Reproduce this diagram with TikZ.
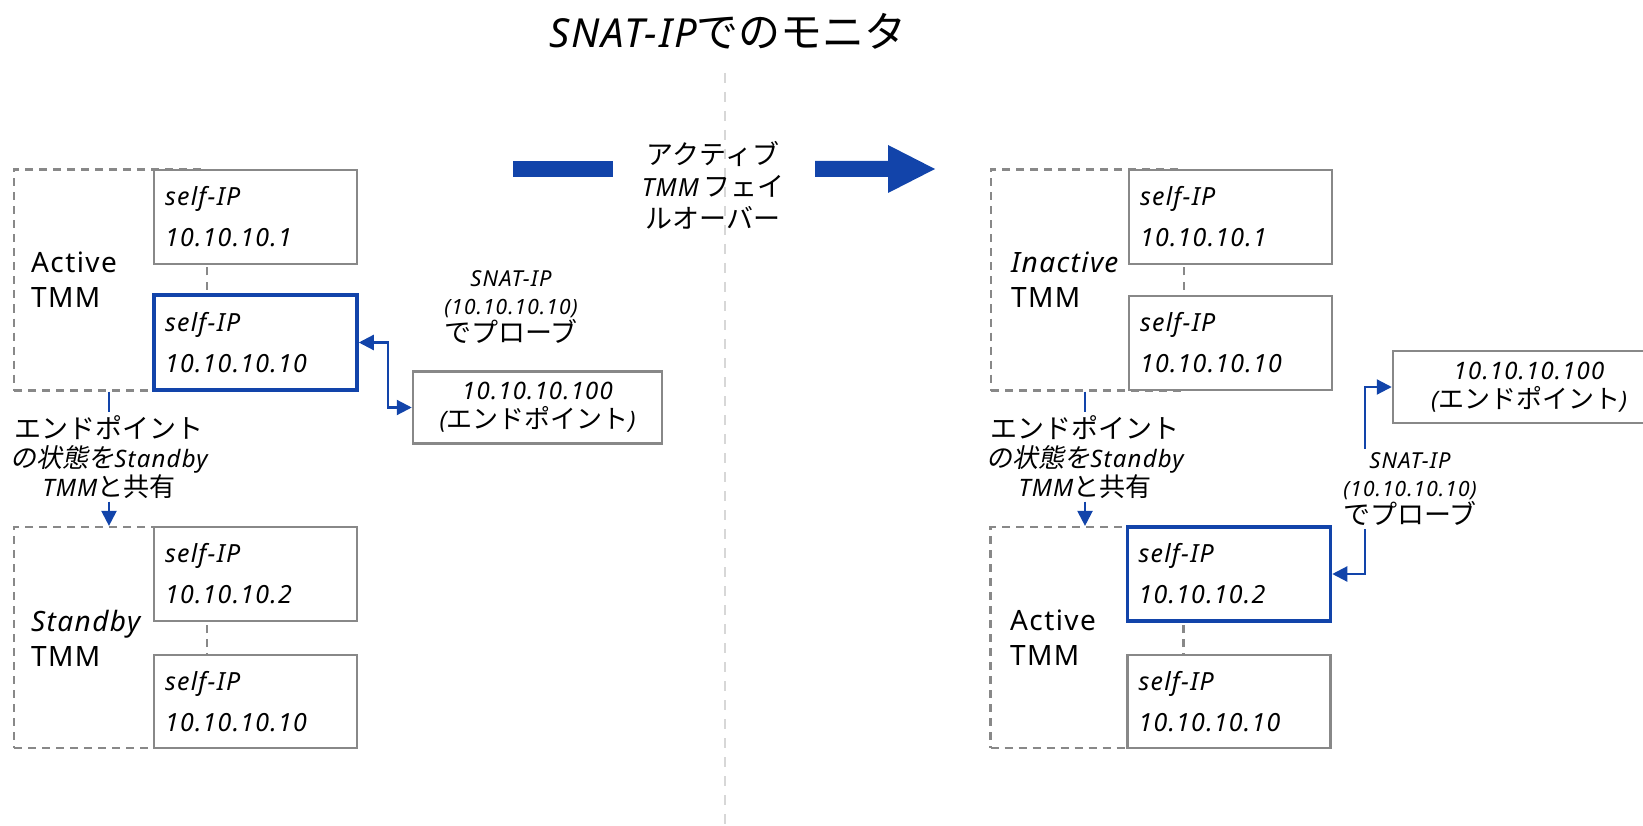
\documentclass[tikz,border=0pt]{standalone}
\usepackage{fontspec}
\setmainfont{Noto Sans}[LetterSpace=5]
\newfontfamily\jpf{Noto Sans CJK JP}
\newfontfamily\jpsl{Noto Sans CJK JP}[FakeSlant=0.2]
\newcommand\jp[1]{{\jpf #1}}
\newcommand\jps[1]{{\jpsl #1}}
\usetikzlibrary{arrows.meta}
\definecolor{f5blue}{RGB}{18,68,170}
\definecolor{boxgray}{RGB}{136,136,136}
\definecolor{divgray}{RGB}{215,215,215}
\begin{document}
\begin{tikzpicture}[x=1pt,y=-1pt,
  ipbox/.style={draw=boxgray, line width=2.5pt, fill=white, minimum height=94pt,
    text width=181pt, inner xsep=11pt, inner ysep=0pt, align=left,
    font=\fontsize{25}{41}\selectfont\itshape},
  activebox/.style={ipbox, draw=f5blue, line width=3.5pt},
  tmmgroup/.style={draw=boxgray, line width=2.2pt, dash pattern=on 8pt off 6pt,
    minimum width=193pt, minimum height=221pt, inner sep=0pt},
  tmmlabel/.style={anchor=west, align=left, inner sep=0pt,
    font=\fontsize{28}{35}\selectfont},
  epbox/.style={draw=boxgray, line width=2.5pt, fill=white, minimum height=72pt,
    inner sep=0pt, align=center, font=\fontsize{24}{29}\selectfont},
  flow/.style={draw=f5blue, line width=2.2pt},
  tips/.style={flow, {Triangle[length=15pt,width=15pt]}-{Triangle[length=15pt,width=15pt]}},
  tipend/.style={flow, -{Triangle[length=15pt,width=15pt]}},
  note/.style={align=center, inner xsep=1pt, inner ysep=3pt, font=\fontsize{24}{29}\selectfont},
  probe/.style={align=center, inner xsep=1pt, inner ysep=4pt, fill=white,
    font=\fontsize{21}{28}\selectfont}
]
\useasboundingbox (0,0) rectangle (1643,826);

% title and divider
\node[font=\fontsize{40}{46}\selectfont] (title) at (728,31)
  {{\itshape SNAT-IP}{\fontsize{42}{46}\selectfont\jp{でのモニタ}}};
\draw[divgray, line width=2pt, dash pattern=on 10pt off 9pt] (725,73) -- (725,826);

% failover arrow
\node[align=center, font=\fontsize{25}{32}\selectfont] (fo) at (713,185)
  {{\fontsize{27}{32}\selectfont\jp{アクティブ}}\\{\itshape TMM}\,{\fontsize{27}{32}\selectfont\jp{フェイ}}\\{\fontsize{27}{32}\selectfont\jp{ルオーバー}}};
\fill[f5blue] (513,161) rectangle (613,177);
\fill[f5blue] (815,161) -- (888,161) -- (888,145) -- (935,169) -- (888,193)
  -- (888,177) -- (815,177) -- cycle;

% ---------- before failover ----------
\node[tmmgroup] (lg1) at (110.5,280) {};
\node[ipbox] (l1) at (255.5,217) {self-IP\\10.10.10.1};
\node[activebox, minimum height=95pt] (l2) at (255.5,342.5) {self-IP\\10.10.10.10};
\node[tmmlabel] (lt1) at (31,280) {Active\\TMM};

\node[tmmgroup] (lg2) at (110.5,637.5) {};
\node[ipbox] (l3) at (255.5,574) {self-IP\\10.10.10.2};
\node[ipbox, minimum height=93pt] (l4) at (255.5,701.5) {self-IP\\10.10.10.10};
\node[tmmlabel] (lt2) at (31,638) {{\itshape Standby}\\TMM};

\node[note] (ls) at (109,457)
  {{\fontsize{27}{29}\selectfont\jp{エンドポイント}}\\{\fontsize{26}{29}\selectfont\jps{の状態を}}{\itshape Standby}\\{\itshape TMM}{\fontsize{26}{29}\selectfont\jp{と共有}}};
\draw[flow] (ls.north |- lg1.south) -- (ls.north);
\draw[tipend] (ls.south) -- (ls.south |- lg2.north);

\node[epbox, minimum width=249pt] (lep) at (537.5,407.5)
  {{\itshape 10.10.10.100}\\{\itshape(}{\fontsize{26}{29}\selectfont\jp{エンドポイント}}{\itshape)}};
\draw[tips] (l2.east) -- ++(29,0) |- (lep.west);
\node[probe, fill=none] (lsn) at (511,307)
  {{\fontsize{22}{28}\selectfont\itshape SNAT-IP}\\{\itshape(10.10.10.10)}\\{\fontsize{27}{28}\selectfont\jp{でプローブ}}};

% ---------- after failover ----------
\node[tmmgroup] (rg1) at (1087.5,280) {};
\node[ipbox] (r1) at (1230.5,217) {self-IP\\10.10.10.1};
\node[ipbox] (r2) at (1230.5,343) {self-IP\\10.10.10.10};
\node[tmmlabel] (rt1) at (1011,280) {{\itshape Inactive}\\TMM};

\node[tmmgroup] (rg2) at (1087,637.5) {};
\node[activebox] (r3) at (1229,574) {self-IP\\10.10.10.2};
\node[ipbox, minimum height=93pt] (r4) at (1229,701.5) {self-IP\\10.10.10.10};
\node[tmmlabel] (rt2) at (1010,638) {Active\\TMM};

\node[note] (rs) at (1085,457)
  {{\fontsize{27}{29}\selectfont\jp{エンドポイント}}\\{\fontsize{26}{29}\selectfont\jps{の状態を}}{\itshape Standby}\\{\itshape TMM}{\fontsize{26}{29}\selectfont\jp{と共有}}};
\draw[flow] (rs.north |- rg1.south) -- (rs.north);
\draw[tipend] (rs.south) -- (rs.south |- rg2.north);

\node[epbox, minimum width=272pt] (rep) at (1529,387)
  {{\itshape 10.10.10.100}\\{\itshape(}{\fontsize{26}{29}\selectfont\jp{エンドポイント}}{\itshape)}};
\draw[tips] (r3.east) -- ++(33,0) |- (rep.west);
\node[probe] (rsn) at (1410,489)
  {{\fontsize{22}{28}\selectfont\itshape SNAT-IP}\\{\itshape(10.10.10.10)}\\{\fontsize{27}{28}\selectfont\jp{でプローブ}}};
\end{tikzpicture}
\end{document}
